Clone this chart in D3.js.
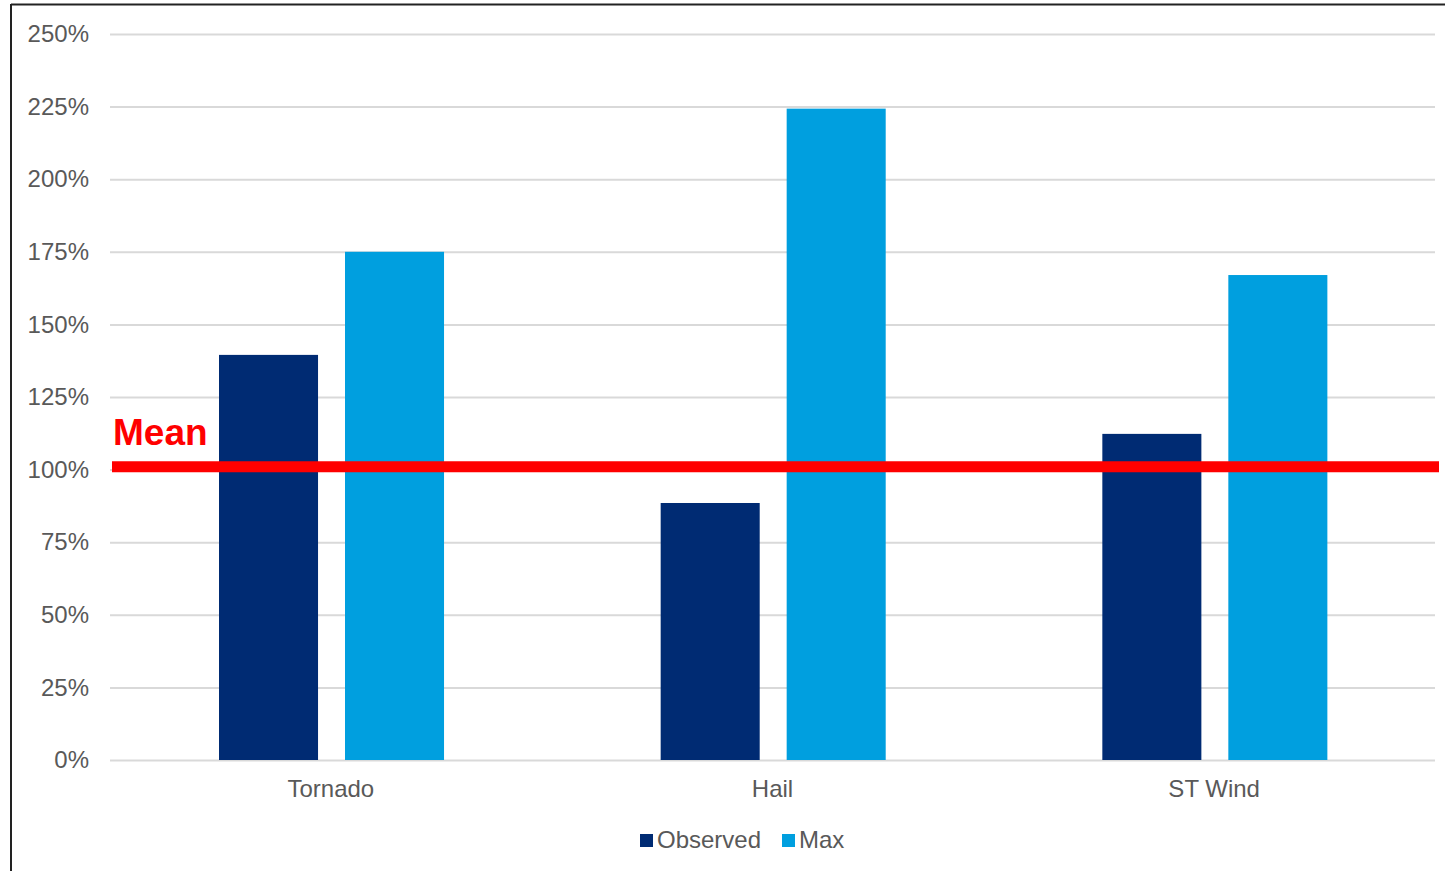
<!DOCTYPE html>
<html>
<head>
<meta charset="utf-8">
<script src="https://cdn.jsdelivr.net/npm/d3@7"></script>
<style>
  html, body { margin: 0; padding: 0; background: #fff; }
  svg { display: block; }
  text { font-family: "Liberation Sans", Arial, sans-serif; }
</style>
</head>
<body>
<svg id="chart" width="1445" height="872"></svg>
<script>
const categories = ["Tornado", "Hail", "ST Wind"];
const seriesNames = ["Observed", "Max"];
const observed = [139.5, 88.5, 112.3];
const maxVals = [175, 224.3, 167];
const meanValue = 101;
const yTicks = [0, 25, 50, 75, 100, 125, 150, 175, 200, 225, 250];
const colors = ["#002b73", "#009fdf"];

const svg = d3.select("#chart");
const W = 1445, H = 872;
const plot = { left: 110, right: 1435, top: 34, bottom: 760 };
const FS = "24px";

// chart frame (top & left edges visible)
svg.append("line").attr("x1", 11).attr("x2", W).attr("y1", 4.5).attr("y2", 4.5)
  .attr("stroke", "#222").attr("stroke-width", 2);
svg.append("line").attr("x1", 11).attr("x2", 11).attr("y1", 4).attr("y2", 871)
  .attr("stroke", "#222").attr("stroke-width", 2);

const y = d3.scaleLinear().domain([0, 250]).range([plot.bottom, plot.top]);
const x0 = d3.scaleBand().domain(categories).range([plot.left, plot.right]).padding(0);
const bw = x0.bandwidth();
const x1 = d3.scaleBand().domain(seriesNames)
  .range([bw * 0.2468, bw * 0.7563]).paddingInner(0.214).paddingOuter(0);

// gridlines
const yAxis = d3.axisLeft(y).tickValues(yTicks).tickFormat(d => d + "%")
  .tickSize(-(plot.right - plot.left)).tickPadding(21);
const gy = svg.append("g").attr("transform", `translate(${plot.left},0)`).call(yAxis);
gy.select(".domain").remove();
gy.selectAll(".tick line").attr("stroke", "#d9d9d9").attr("stroke-width", 2);
gy.selectAll(".tick text").attr("fill", "#595959").style("font-size", FS)
  .style("font-family", "'Liberation Sans', Arial, sans-serif");

// bars
const data = categories.map((c, i) => ({ cat: c, vals: [observed[i], maxVals[i]] }));
const groups = svg.append("g").selectAll("g").data(data).join("g")
  .attr("transform", d => `translate(${x0(d.cat)},0)`);
groups.selectAll("rect").data(d => d.vals.map((v, j) => ({ s: seriesNames[j], v, j })))
  .join("rect")
  .attr("x", d => x1(d.s))
  .attr("width", x1.bandwidth())
  .attr("y", d => y(d.v))
  .attr("height", d => y(0) - y(d.v))
  .attr("fill", d => colors[d.j]);

// x axis labels
const xAxis = d3.axisBottom(x0).tickSize(0).tickPadding(20);
const gx = svg.append("g").attr("transform", `translate(0,${plot.bottom})`).call(xAxis);
gx.select(".domain").remove();
gx.selectAll(".tick text").attr("fill", "#595959").style("font-size", FS)
  .style("font-family", "'Liberation Sans', Arial, sans-serif");

// mean line
svg.append("line")
  .attr("x1", 112).attr("x2", 1439)
  .attr("y1", y(meanValue)).attr("y2", y(meanValue))
  .attr("stroke", "#ff0000").attr("stroke-width", 11);
svg.append("text").attr("x", 113).attr("y", 445)
  .attr("fill", "#ff0000").style("font-size", "37px").style("font-weight", "bold")
  .text("Mean");

// legend
const legend = svg.append("g");
const legendItems = [
  { name: seriesNames[0], color: colors[0], x: 640 },
  { name: seriesNames[1], color: colors[1], x: 782 }
];
legendItems.forEach(it => {
  legend.append("rect").attr("x", it.x).attr("y", 834).attr("width", 13).attr("height", 13)
    .attr("fill", it.color);
  legend.append("text").attr("x", it.x + 17).attr("y", 848)
    .attr("fill", "#595959").style("font-size", FS).text(it.name);
});
</script>
</body>
</html>
